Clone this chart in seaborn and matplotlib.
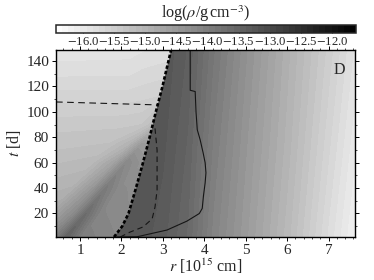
import numpy as np
import seaborn as sns
import matplotlib.pyplot as plt
from matplotlib.patches import Polygon

# density, outer part (r, t, log rho)
outer_r = [1.5, 2.4, 3.0, 3.6, 4.2, 5.0, 6.0, 7.0, 7.7]
outer_t = [1.5, 75, 149]
outer_log = [
    [-13.20, -13.22, -13.35, -13.60, -14.10, -14.54, -15.11, -15.77, -16.20],
    [-13.15, -13.18, -13.26, -13.50, -13.98, -14.45, -15.00, -15.62, -16.05],
    [-13.10, -13.15, -13.20, -13.40, -13.85, -14.35, -14.92, -15.49, -15.90],
]

# inner part, one row per time: positions across the diagonal band and values
wind_t = [1.5, 20, 40, 60, 75, 90, 110, 130, 149]
wind_r = [
    [0.0, 0.05, 0.40, 0.68, 1.00, 3.5],
    [0.0, 0.30, 0.85, 1.15, 1.50, 3.5],
    [0.0, 0.80, 1.32, 1.62, 1.97, 3.5],
    [0.0, 1.30, 1.82, 2.12, 2.47, 3.5],
    [0.0, 1.70, 2.20, 2.50, 2.85, 3.5],
    [0.0, 2.00, 2.50, 2.75, 3.05, 3.5],
    [0.0, 2.20, 2.50, 2.75, 3.05, 3.5],
    [0.0, 2.20, 2.50, 2.75, 3.05, 3.5],
    [0.0, 2.20, 2.50, 2.75, 3.05, 3.5],
]
wind_log = [
    [-14.40, -14.40, -14.00, -13.50, -14.00, -14.50],
    [-14.85, -14.75, -14.25, -13.68, -14.15, -14.50],
    [-15.02, -14.95, -14.45, -13.95, -14.25, -14.45],
    [-15.20, -15.10, -14.70, -14.20, -14.40, -14.55],
    [-15.30, -15.25, -15.00, -14.55, -14.65, -14.80],
    [-15.40, -15.38, -15.35, -15.20, -15.10, -15.00],
    [-15.58, -15.58, -15.56, -15.54, -15.52, -15.50],
    [-15.77, -15.76, -15.72, -15.70, -15.68, -15.66],
    [-15.92, -15.90, -15.86, -15.84, -15.82, -15.80],
]

# lines on the chart
shock_r = [1.82, 2.02, 2.17, 2.35, 2.52, 2.68, 2.83, 2.99, 3.20]
shock_t = [1.5, 10, 20, 40, 60, 80, 100, 120, 149]
inner_r = [1.97, 2.21, 2.52, 2.74, 2.81, 2.86, 2.86, 2.81]
inner_t = [1.5, 5.4, 9.4, 15.7, 25, 38.5, 70, 87]
solid_r = [1.85, 2.38, 3.10, 3.58, 3.88, 3.95, 3.98, 4.02, 4.04, 4.02, 3.97, 3.90, 3.83, 3.80, 3.78, 3.66, 3.66]
solid_t = [1.5, 1.7, 7, 14, 20, 24, 34, 44, 52, 60, 68, 78, 86, 100, 116, 117, 149]
horiz_r = [0.42, 2.85]
horiz_t = [107.8, 105.5]

cbar_ticks = [-16.0, -15.5, -15.0, -14.5, -14.0, -13.5, -13.0, -12.5, -12.0]
x_ticks = [1, 2, 3, 4, 5, 6, 7]
y_ticks = [20, 40, 60, 80, 100, 120, 140]

sns.set_style("ticks")
plt.rcParams['font.family'] = ['Liberation Serif', 'DejaVu Serif']
plt.rcParams['mathtext.fontset'] = 'stix'

W, H = 374, 280
fig = plt.figure(figsize=(W / 100, H / 100), dpi=100)
ax = fig.add_axes([56 / W, 1 - 237 / H, 299.5 / W, 187 / H])
cax = fig.add_axes([56 / W, 1 - 33 / H, 300 / W, 8 / H])

levels = np.linspace(-16.43, -11.62, 50)
r_grid, t_grid = np.meshgrid(outer_r, outer_t)
cs = ax.contourf(r_grid, t_grid, outer_log, levels=levels, cmap='gray_r')

# inner part only shows left of the shock line
t_wind = np.repeat(np.array(wind_t)[:, None], 6, axis=1)
clip = Polygon(list(zip(shock_r, shock_t)) + [(0, 149), (0, 1.5)], closed=True,
               transform=ax.transData, fc='none', ec='none')
ax.add_patch(clip)
cs2 = ax.contourf(np.array(wind_r), t_wind, wind_log, levels=levels, cmap='gray_r')
cs2.set_clip_path(clip)

# lines
sns.lineplot(x=solid_r, y=solid_t, sort=False, estimator=None, color='#151515', lw=0.8, ax=ax)
sns.lineplot(x=inner_r, y=inner_t, sort=False, estimator=None, color='#151515', lw=0.8, ax=ax,
             dashes=False, linestyle=(0, (5, 3.5)))
sns.lineplot(x=horiz_r, y=horiz_t, sort=False, estimator=None, color='#151515', lw=0.8, ax=ax,
             dashes=False, linestyle=(0, (6, 4)))
sns.lineplot(x=shock_r, y=shock_t, sort=False, estimator=None, color='black', lw=1.9, ax=ax,
             dashes=False, linestyle=(0, (1.3, 0.8)))

ax.set_xlim(0.42, 7.65)
ax.set_ylim(1.5, 148.7)
ax.set_xticks(x_ticks)
ax.set_yticks(y_ticks)
ax.set_xticks(np.arange(0.6, 7.65, 0.2), minor=True)
ax.set_yticks(np.arange(10, 148, 10), minor=True)
ax.tick_params(which='major', direction='out', length=3, width=0.7, top=True, right=True,
               labelsize=11, pad=2, color='black')
ax.tick_params(which='minor', direction='out', length=1.7, width=0.5, top=True, right=True, color='black')
ax.set_xlabel(r'$r$ [10$^{15}$ cm]', fontsize=11.5, labelpad=0)
ax.set_ylabel(r'$t$ [d]', fontsize=11.5, labelpad=2)
ax.text(7.25, 133, 'D', fontsize=11.5, ha='center', va='center')
for s in ax.spines.values():
    s.set_linewidth(1.0)
    s.set_color('black')

# colour bar
cb = fig.colorbar(cs, cax=cax, orientation='horizontal', drawedges=False)
cb.set_ticks(cbar_ticks)
cb.set_ticklabels([r'$-$%.1f' % abs(v) for v in cbar_ticks])
cb.minorticks_off()
cax.tick_params(direction='in', length=2.5, width=0.6, labelsize=9.2, pad=2, color='black')
cb.outline.set_linewidth(1.1)
fig.text(205.5 / W, 1 - 14 / H, r'log($\rho$/g$\,$cm$^{-3}$)', fontsize=11.6, ha='center', va='center')

fig.savefig('out.png', dpi=100)
